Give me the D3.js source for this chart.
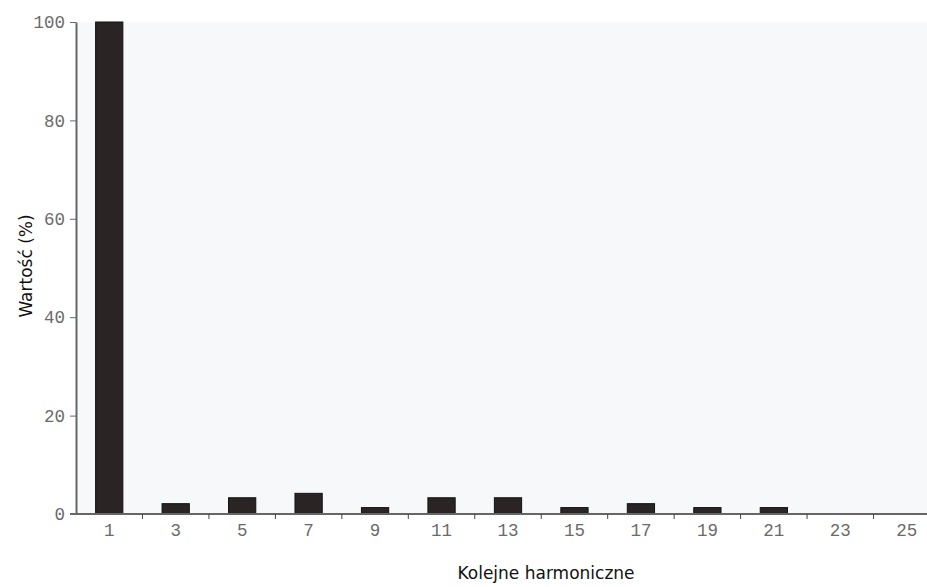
<!DOCTYPE html>
<html><head><meta charset="utf-8">
<script src="https://cdn.jsdelivr.net/npm/d3@7"></script>
<style>body{margin:0;background:#fff}svg{display:block}</style>
</head><body>
<svg id="c" width="927" height="587"></svg>
<script>
const categories = ["1","3","5","7","9","11","13","15","17","19","21","23","25"];
const values = [100, 2.1, 3.3, 4.2, 1.3, 3.3, 3.3, 1.3, 2.1, 1.3, 1.3, 0, 0];
const yTicks = [0, 20, 40, 60, 80, 100];
const xTitle = "Kolejne harmoniczne";
const yTitle = "Wartość (%)";

const svg = d3.select("#c");
const mLeft = 76, mTop = 22, mBottom = 514, mRight = 940;
const x = d3.scaleBand().domain(categories).range([mLeft, mRight]).paddingInner(0.59).paddingOuter(0.295);
const y = d3.scaleLinear().domain([0, 100]).range([mBottom, mTop]);

svg.append("rect").attr("x", mLeft).attr("y", mTop).attr("width", 927 - mLeft).attr("height", mBottom - mTop).attr("fill", "#f7f8fa");

svg.selectAll("rect.bar").data(values).join("rect").attr("class", "bar")
  .attr("x", (d, i) => x(categories[i]))
  .attr("width", x.bandwidth())
  .attr("y", d => y(d))
  .attr("height", d => mBottom - y(d))
  .attr("fill", "#2a2424").attr("stroke", "#111").attr("stroke-width", 1);

// y axis
const ya = svg.append("g").attr("transform", `translate(${mLeft},0)`)
  .call(d3.axisLeft(y).tickValues(yTicks).tickSize(6).tickSizeOuter(0).tickPadding(5));
ya.select(".domain").attr("stroke", "#666").attr("stroke-width", 2);
ya.selectAll(".tick line").attr("stroke", "#666");
ya.selectAll("text").attr("font-family", "Liberation Mono, Courier New, monospace").attr("font-size", 17.5).attr("fill", "#6a6a6a");

// x axis
const boundaries = categories.slice(1).map(c => x(c) - x.step() * x.paddingInner() / 2);
const xa = svg.append("g").attr("transform", `translate(0,${mBottom})`);
xa.append("line").attr("x1", mLeft - 6).attr("x2", 927).attr("y1", 0).attr("y2", 0).attr("stroke", "#666").attr("stroke-width", 2);
xa.selectAll("line.t").data(boundaries).join("line").attr("class", "t")
  .attr("x1", d => d).attr("x2", d => d).attr("y1", 0).attr("y2", 5).attr("stroke", "#444");
xa.selectAll("text").data(categories).join("text")
  .attr("x", d => x(d) + x.bandwidth() / 2).attr("y", 22)
  .attr("text-anchor", "middle")
  .attr("font-family", "Liberation Mono, Courier New, monospace").attr("font-size", 17.5).attr("fill", "#6a6a6a")
  .text(d => d);

svg.append("text").attr("x", 546).attr("y", 579).attr("text-anchor", "middle")
  .attr("font-family", "DejaVu Sans, sans-serif").attr("font-size", 17).attr("fill", "#111").text(xTitle);
svg.append("text").attr("transform", "translate(32,266) rotate(-90)").attr("text-anchor", "middle")
  .attr("font-family", "DejaVu Sans, sans-serif").attr("font-size", 17).attr("fill", "#111").text(yTitle);
</script>
</body></html>
